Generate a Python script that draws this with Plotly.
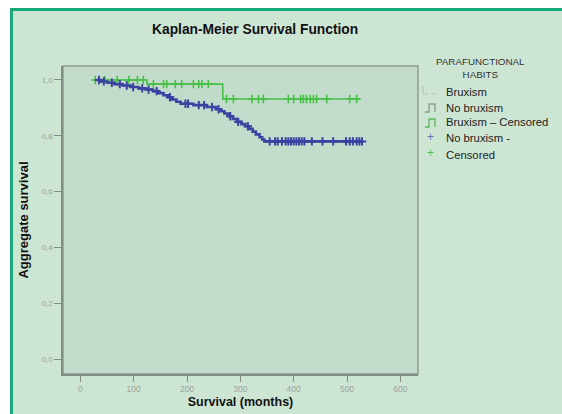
import plotly.graph_objects as go

# ---- data ----
no_brux_time = [28, 39, 51, 64, 79, 94, 109, 123, 136, 146, 156, 164, 172, 180, 188,
                212, 237, 255, 263, 270, 278, 286, 294, 302, 309, 316, 323, 329, 336,
                341, 345, 528]
no_brux_surv = [1.0, 0.995, 0.99, 0.985, 0.98, 0.975, 0.97, 0.966, 0.96, 0.953, 0.945,
                0.938, 0.93, 0.922, 0.915, 0.91, 0.903, 0.895, 0.888, 0.88, 0.87, 0.86,
                0.85, 0.842, 0.834, 0.825, 0.815, 0.805, 0.795, 0.787, 0.78, 0.78]
no_brux_cens_time = [35, 44, 59, 74, 87, 99, 116, 128, 143, 168, 197, 202, 222, 232,
                     247, 259, 281, 296, 314, 355, 365, 370, 378, 385, 390, 395, 400,
                     405, 410, 415, 420, 434, 454, 474, 498, 505, 511, 518, 523, 528]

brux_time = [28, 125, 267, 524]
brux_surv = [1.0, 0.985, 0.932, 0.932]
brux_cens_time = [28, 46, 69, 91, 107, 118, 137, 156, 162, 178, 190, 212, 222, 228, 240,
                  274, 287, 322, 334, 343, 390, 400, 413, 418, 424, 431, 437, 443, 462,
                  505, 518]

x_ticks = [0, 100, 200, 300, 400, 500, 600]
y_ticks = [0.0, 0.2, 0.4, 0.6, 0.8, 1.0]
y_tick_labels = ["0,0", "0,2", "0,4", "0,6", "0,8", "1,0"]

legend_title = "PARAFUNCTIONAL<br>HABITS"
legend_labels = ["Bruxism", "No bruxism", "Bruxism – Censored", "No bruxism -", "Censored"]


def surv_at(t, times, surv):
    s = surv[0]
    for ti, si in zip(times, surv):
        if ti <= t:
            s = si
    return s


no_brux_cens_surv = [surv_at(t, no_brux_time, no_brux_surv) for t in no_brux_cens_time]
brux_cens_surv = [surv_at(t, brux_time, brux_surv) for t in brux_cens_time]

GREEN = "#46c046"
BLUE = "#3a42a2"

fig = go.Figure()
fig.add_trace(go.Scatter(x=brux_time, y=brux_surv, mode="lines", line_shape="hv",
                         line=dict(color=GREEN, width=1.6), name="Bruxism"))
fig.add_trace(go.Scatter(x=no_brux_time, y=no_brux_surv, mode="lines", line_shape="hv",
                         line=dict(color=BLUE, width=2.6), name="No bruxism"))
fig.add_trace(go.Scatter(x=brux_cens_time, y=brux_cens_surv, mode="markers",
                         marker=dict(symbol="cross-thin-open", size=6, color=GREEN,
                                     line=dict(color=GREEN, width=1.6)),
                         name="Bruxism – Censored"))
fig.add_trace(go.Scatter(x=no_brux_cens_time, y=no_brux_cens_surv, mode="markers",
                         marker=dict(symbol="cross-thin-open", size=6, color=BLUE,
                                     line=dict(color=BLUE, width=2)),
                         name="No bruxism - Censored"))

W, H = 562, 414
L, R, T, B = 63, 144, 66, 40
pw = W - L - R
ph = H - T - B


def px_x(p):
    return (p - L) / pw


def px_y(p):
    return 1 - (p - T) / ph


def path(points):
    return "M " + " L ".join(f"{px_x(a):.5f},{px_y(b):.5f}" for a, b in points)


def strip(x, y, w, h, color):
    return dict(text=" ", xref="paper", yref="paper", x=px_x(x), y=px_y(y),
                xanchor="left", yanchor="top", width=w, height=h, bgcolor=color,
                borderpad=0, borderwidth=0, showarrow=False, font=dict(size=1))


shapes = [
    # plot area
    dict(type="rect", xref="x domain", yref="y domain", x0=0, x1=1, y0=0, y1=1,
         fillcolor="#c3dbca", line=dict(color="#8f9e94", width=1.5), layer="below"),
    # legend glyphs
    dict(type="path", xref="paper", yref="paper",
         path=path([(423, 86), (423, 94), (428, 94)]),
         line=dict(color="#b4c2b8", width=1)),
    dict(type="path", xref="paper", yref="paper",
         path=path([(431, 94), (435, 94)]),
         line=dict(color="#b4c2b8", width=1)),
    dict(type="path", xref="paper", yref="paper",
         path=path([(425, 112), (429, 112), (429, 104), (435, 104), (435, 112)]),
         line=dict(color="#8e9890", width=1.3)),
    dict(type="path", xref="paper", yref="paper",
         path=path([(425, 127), (429, 127), (429, 119), (435, 119), (435, 127)]),
         line=dict(color="#5cb85c", width=1.3)),
]

annotations = [
    # page strips and green frame (left and top edges)
    strip(0, 0, 10, H, "white"),
    strip(0, 0, W, 8, "white"),
    strip(10, 8, 3, H - 8, "#19a87c"),
    strip(10, 8, W - 10, 3, "#19a87c"),
    dict(text="<b>Kaplan-Meier Survival Function</b>", xref="paper", yref="paper",
         x=px_x(255), y=px_y(29), xanchor="center", yanchor="middle",
         showarrow=False, font=dict(size=13.8, color="#111")),
    dict(text=legend_title, xref="paper", yref="paper",
         x=px_x(480), y=px_y(67.5), xanchor="center", yanchor="middle",
         showarrow=False, font=dict(size=9.8, color="#333")),
    dict(text="+", xref="paper", yref="paper", x=px_x(430), y=px_y(137),
         xanchor="center", yanchor="middle", showarrow=False,
         font=dict(size=12, color="#6d73a8")),
    dict(text="+", xref="paper", yref="paper", x=px_x(430), y=px_y(153),
         xanchor="center", yanchor="middle", showarrow=False,
         font=dict(size=12, color="#52bb52")),
]
label_y = [92, 107.5, 122.5, 138, 154.5]
for lab, yy in zip(legend_labels, label_y):
    annotations.append(dict(text=lab, xref="paper", yref="paper", x=px_x(444), y=px_y(yy),
                            xanchor="left", yanchor="middle", showarrow=False,
                            font=dict(size=11.3, color="#222")))

fig.update_layout(
    width=W, height=H,
    margin=dict(l=L, r=R, t=T, b=B),
    paper_bgcolor="#cde6d4",
    plot_bgcolor="rgba(0,0,0,0)",
    font=dict(family="Liberation Sans, Arial, sans-serif", color="#222"),
    showlegend=False,
    shapes=shapes,
    annotations=annotations,
)

fig.update_xaxes(range=[-32.5, 633], tickvals=x_ticks, ticks="outside", ticklen=6,
                 tickwidth=1.2, tickcolor="#7f8c84", showline=True, linecolor="#7f8c84",
                 linewidth=1.5, showgrid=False, zeroline=False, automargin=False,
                 tickfont=dict(size=8.5, color="#9aa49c"),
                 title=dict(text="<b>Survival (months)</b>", font=dict(size=12.5, color="#111"),
                            standoff=4))
fig.update_yaxes(range=[-0.053, 1.05], tickvals=y_ticks, ticktext=y_tick_labels,
                 ticks="outside", ticklen=7, tickwidth=1.2, tickcolor="#7f8c84",
                 showline=True, linecolor="#7f8c84", linewidth=1.5, showgrid=False,
                 zeroline=False, automargin=False, tickfont=dict(size=8, color="#9aa49c"),
                 title=dict(text="<b>Aggregate survival</b>", font=dict(size=13, color="#111"),
                            standoff=10))

fig.write_html("out.html")
